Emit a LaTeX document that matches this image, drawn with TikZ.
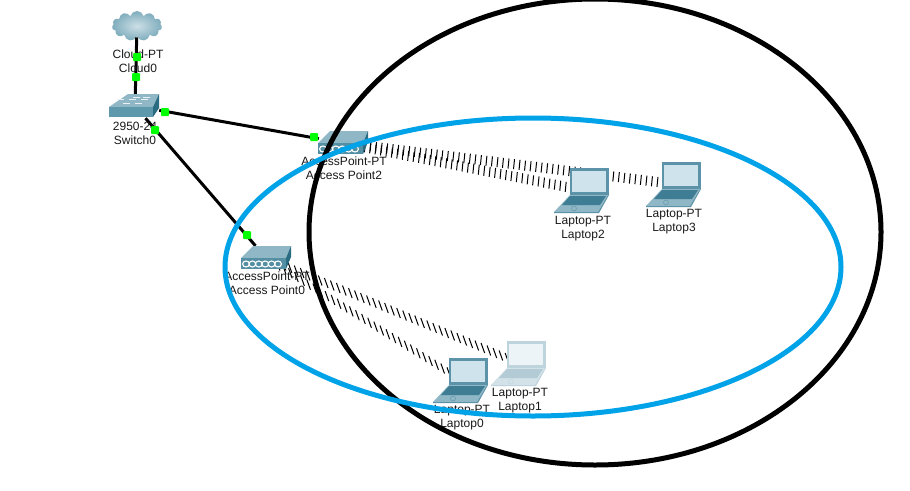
\documentclass[tikz,border=0pt]{standalone}
\usepackage{fontspec}
\setmainfont{Liberation Sans}
\usetikzlibrary{shapes.symbols, calc}

\definecolor{devtop}{HTML}{8FB7C6}
\definecolor{devfront}{HTML}{5E98AC}
\definecolor{devside}{HTML}{2A6C82}
\definecolor{lapframe}{HTML}{5C93A8}
\definecolor{lapscreen}{HTML}{CFE3EC}
\definecolor{lapkeys}{HTML}{3F7D94}
\definecolor{lappalm}{HTML}{8FB7C6}
\definecolor{ringblue}{HTML}{00A2E8}
\definecolor{portgreen}{HTML}{00FF00}

\tikzset{
  devlabel/.style={font=\fontsize{12}{14}\selectfont, align=center, inner sep=0pt, text=black!90},
  iconbox/.style={minimum width=#1, minimum height=24pt, inner sep=0pt},
  wire/.style={line width=3pt, black},
  wtick/.style={line width=1pt, black},
  port/.style={fill=portgreen, rounded corners=1pt, minimum size=8pt, inner sep=0pt},
  pics/switchicon/.style={code={
    \fill[devtop] (-26,1) -- (-7,-12) -- (24,-12) -- (18,1) -- cycle;
    \fill[devfront] (-26,1) rectangle (18,11);
    \fill[devside] (24,-12) -- (24,2) -- (18,11) -- (18,1) -- cycle;
    \foreach \i/\j in {-12/-3,0/-3,-18/-7,-6/-7,6/-7,-2/-9,8/-9}
      \fill[white!80!devtop] (\i,\j) rectangle ++(7,1);
  }},
  pics/apicon/.style={code={
    \fill[devtop] (-25,0) -- (-13,-12) -- (25,-12) -- (20,0) -- cycle;
    \fill[devfront!80!devside] (-25,0) rectangle (20,11);
    \fill[devside] (25,-12) -- (25,-1) -- (20,11) -- (20,0) -- cycle;
    \foreach \i in {0,...,5}
      \draw[white, line width=1.1pt] (-20+6.4*\i,6) ellipse [x radius=3.4pt, y radius=3pt];
  }},
  pics/laptop/.style={code={
    \fill[lapframe!#1!white] (-12,-22) rectangle (27,5);
    \fill[lapscreen!#1!white] (-10,-19) rectangle (24,2);
    \fill[lappalm!#1!white] (-12,5) -- (26,5) -- (16,22) -- (-28,22) -- cycle;
    \fill[lapkeys!#1!white] (-12,6) -- (24,6) -- (18,15) -- (-20,15) -- cycle;
    \fill[lapframe!#1!white] (-28,22) -- (16,22) -- (26,5) -- (27,5) -- (17,23) -- (-28,23) -- cycle;
    \draw[lapframe!#1!white] (-8,18.5) circle (2.5pt);
  }},
}

\begin{document}
\begin{tikzpicture}[x=1pt, y=-1pt]
  \useasboundingbox (0,0) rectangle (910,490);
  \fill[white] (0,0) rectangle (910,490);

  \node[cloud, cloud puffs=11, aspect=1.8, inner sep=0pt, minimum width=50pt, minimum height=30pt,
        inner color=devtop!45!white, outer color=devfront!80!white] (cloud0) at (137,26) {};
  \node[iconbox=48pt] (switch0) at (135,106) {};
  \node[iconbox=48pt] (ap2) at (343,143) {};
  \node[iconbox=48pt] (ap0) at (266,258) {};
  \node[iconbox=50pt] (lap0) at (461,380) {};
  \node[iconbox=50pt] (lap1) at (519,363) {};
  \node[iconbox=50pt] (lap2) at (582,190) {};
  \node[iconbox=50pt] (lap3) at (674,184) {};

  % wireless links
  \foreach \from/\to/\n/\lean/\tall in {ap0/lap0/32/1.8/5, ap0/lap1/42/1.8/5, ap2/lap2/44/-0.5/5, ap2/lap3/60/-0.5/5}
    \foreach \k in {0,...,\n}
      \draw[wtick] ($(\from)!\k/\n!(\to)$) ++(-\lean,-\tall) -- ++(2*\lean,2*\tall);

  \draw[wire] (cloud0) -- (switch0);
  \draw[wire] (switch0) -- (ap2);
  \draw[wire] (switch0) -- (ap0);

  \pic at (switch0) {switchicon};
  \pic at (ap2) {apicon};
  \pic at (ap0) {apicon};
  \pic at (lap0) {laptop=100};
  \pic at (lap1) {laptop=40};
  \pic at (lap2) {laptop=100};
  \pic at (lap3) {laptop=100};

  \node[devlabel] (cloud0lbl) at (138,61) {Cloud-PT\\Cloud0};
  \node[devlabel] (switch0lbl) at (135,133) {2950-24\\Switch0};
  \node[devlabel] (ap2lbl) at (344,168) {AccessPoint-PT\\Access Point2};
  \node[devlabel] (ap0lbl) at (267,283) {AccessPoint-PT\\Access Point0};
  \node[devlabel] (lap0lbl) at (462,418) {Laptop-PT\\Laptop0};
  \node[devlabel] (lap1lbl) at (520,401) {Laptop-PT\\Laptop1};
  \node[devlabel] (lap2lbl) at (583,229) {Laptop-PT\\Laptop2};
  \node[devlabel] (lap3lbl) at (674,222) {Laptop-PT\\Laptop3};

  \node[port] (p1) at (137,57) {};
  \node[port] (p2) at (136,77) {};
  \node[port] (p3) at (165,112) {};
  \node[port] (p4) at (314,137) {};
  \node[port] (p5) at (155,130) {};
  \node[port] (p6) at (247,235) {};

  \draw[line width=5pt, black] (595,232) ellipse [x radius=286pt, y radius=233pt];
  \draw[line width=5pt, ringblue] (533,267) ellipse [x radius=308pt, y radius=149pt];
\end{tikzpicture}
\end{document}
